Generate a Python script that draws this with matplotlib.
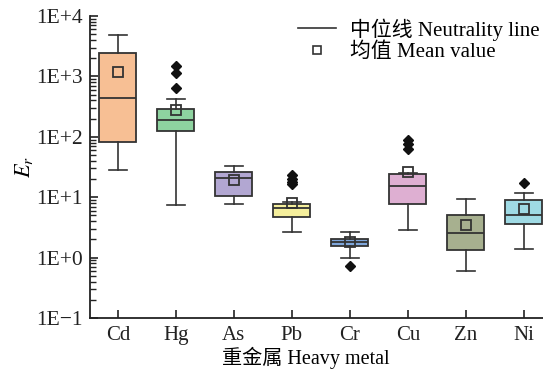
import matplotlib
matplotlib.use("Agg")
import math
import matplotlib.pyplot as plt
from matplotlib.lines import Line2D
from matplotlib.ticker import LogLocator, FuncFormatter, NullFormatter

plt.rcParams['font.family'] = ['Liberation Serif', 'Noto Sans CJK SC']
plt.rcParams['mathtext.fontset'] = 'stix'

metals = ["Cd", "Hg", "As", "Pb", "Cr", "Cu", "Zn", "Ni"]
whislo = [28, 7.3, 7.8, 2.62, 1.0, 2.86, 0.60, 1.40]
q1 = [82, 126, 10.6, 4.75, 1.56, 7.62, 1.32, 3.56]
med = [438, 190, 21.0, 6.55, 1.79, 15.5, 2.58, 5.02]
q3 = [2440, 283, 26.4, 7.71, 2.01, 23.9, 5.07, 8.89]
whishi = [4840, 418, 33.2, 8.43, 2.62, 24.9, 9.33, 11.6]
means = [1180, 280, 19.3, 7.93, 1.79, 25.8, 3.43, 6.31]
fliers = [[], [1500, 1150, 640], [], [23, 20, 18, 16.5], [0.73], [88, 75, 62], [], [17.4]]
colors = ["#F7BF94", "#8ED3A0", "#B2A7D2", "#F5EF9C", "#7FA6DA", "#DEAFD2", "#A7B08F", "#9FDAE4"]

stats = []
for i, m in enumerate(metals):
    stats.append(dict(label=m, whislo=whislo[i], q1=q1[i], med=med[i], q3=q3[i],
                      whishi=whishi[i], mean=means[i], fliers=fliers[i]))

fig = plt.figure(figsize=(5.43, 3.71), dpi=100)
ax = fig.add_axes([0.1657, 0.143, 0.8343, 0.814])

ec = "#333333"
bp = ax.bxp(stats, positions=range(len(metals)), widths=0.64, patch_artist=True,
            showmeans=True, meanline=False,
            boxprops=dict(edgecolor=ec, linewidth=1.3),
            medianprops=dict(color=ec, linewidth=1.3),
            whiskerprops=dict(color=ec, linewidth=1.2),
            capprops=dict(color=ec, linewidth=1.2),
            capwidths=0.32,
            meanprops=dict(marker='s', markerfacecolor='none', markeredgecolor=ec,
                           markersize=7, markeredgewidth=1.3),
            flierprops=dict(marker='D', markerfacecolor='#111111', markeredgecolor='#111111',
                            markersize=5))
for patch, c in zip(bp['boxes'], colors):
    patch.set_facecolor(c)

ax.set_yscale('log')
ax.set_ylim(0.1, 1e4)
ax.set_xlim(-0.48, 7.33)

def fmt(v, pos):
    e = int(round(math.log10(v)))
    return "1E+%d" % e if e >= 0 else "1E\u2212%d" % (-e)

ax.yaxis.set_major_locator(LogLocator(base=10, numticks=10))
ax.yaxis.set_major_formatter(FuncFormatter(fmt))
ax.yaxis.set_minor_locator(LogLocator(base=10, subs=range(2, 10), numticks=10))
ax.yaxis.set_minor_formatter(NullFormatter())

ax.set_xticks(range(len(metals)))
ax.set_xticklabels(metals)

for s in ['top', 'right']:
    ax.spines[s].set_visible(False)
for s in ['left', 'bottom']:
    ax.spines[s].set_linewidth(1.3)
    ax.spines[s].set_color('#222222')

ax.tick_params(axis='both', which='major', direction='in', length=6, width=1.2,
               colors='#222222')
ax.tick_params(axis='y', which='major', labelsize=15.5, pad=5)
ax.tick_params(axis='x', which='major', labelsize=15, pad=6)
ax.tick_params(axis='y', which='minor', direction='in', length=4, width=1.0, colors='#222222')

ax.set_xlabel("重金属 Heavy metal", fontsize=14.5)
ax.xaxis.set_label_coords(0.477, -0.094)
ax.set_ylabel("$E_r$", fontsize=16, labelpad=1)

handles = [Line2D([0], [0], color=ec, linewidth=1.2),
           Line2D([0], [0], marker='s', linestyle='none', markerfacecolor='none',
                  markeredgecolor=ec, markersize=6, markeredgewidth=1.2)]
ax.legend(handles, ["中位线 Neutrality line", "均值 Mean value"], loc='upper right',
          bbox_to_anchor=(1.035, 1.055), frameon=False, fontsize=15, handlelength=1.8,
          labelspacing=0.1, handletextpad=0.7)

fig.savefig("out.png", dpi=100)
